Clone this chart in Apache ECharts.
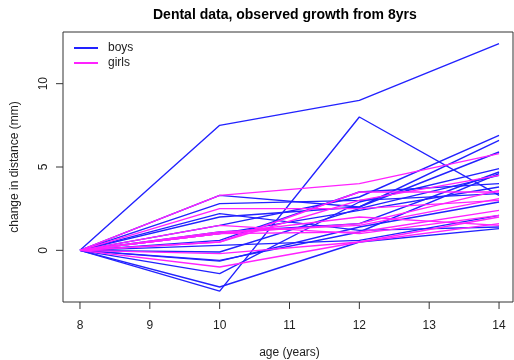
<!DOCTYPE html>
<html>
<head>
<meta charset="utf-8">
<script src="https://cdn.jsdelivr.net/npm/echarts@6/dist/echarts.min.js"></script>
<style>
  html, body { margin: 0; padding: 0; background: #fff; }
  #chart { width: 514px; height: 360px; }
</style>
</head>
<body>
<div id="chart"></div>
<script>
// Ages at which distance was measured
const ages = [8, 10, 12, 14];

// Change in distance (mm) relative to age 8, one row per child
const boys = [
  [0, -1.4, 2.9, 4.9],
  [0, 1.1, 1.6, 4.7],
  [0, -0.6, 1.1, 4.6],
  [0, 2.2, 1.2, 1.4],
  [0, 3.3, 2.6, 5.9],
  [0, 1.0, 2.4, 3.8],
  [0, -0.1, 2.5, 4.5],
  [0, -2.2, 0.5, 1.3],
  [0, -2.45, 8.0, 3.3],
  [0, 0.6, 3.5, 4.0],
  [0, 0.3, 0.6, 2.1],
  [0, 2.0, 2.6, 6.6],
  [0, 7.5, 9.0, 12.4],
  [0, 2.8, 3.0, 3.4],
  [0, 1.5, 3.2, 6.9],
  [0, -0.65, 1.4, 2.9]
];
const girls = [
  [0, -1.0, 0.5, 2.0],
  [0, 0.5, 3.0, 4.5],
  [0, 3.3, 4.0, 5.8],
  [0, 1.1, 1.5, 3.1],
  [0, 1.5, 1.0, 2.1],
  [0, 1.0, 1.1, 2.4],
  [0, 1.0, 1.6, 3.6],
  [0, -0.2, 0.5, 1.6],
  [0, 1.0, 2.0, 1.5],
  [0, 2.5, 2.5, 3.0],
  [0, 0.5, 3.5, 3.5]
];

// Tick values
const xTicks = [8, 9, 10, 11, 12, 13, 14];
const yTicks = [0, 5, 10];
const xTickMin = 8, xTickMax = 14, xTickStep = 1;
const yTickMin = 0, yTickMax = 10, yTickStep = 5;

const BLUE = '#2222ff';
const MAGENTA = '#ff22ff';
const FONT = 'Liberation Sans, Arial, Helvetica, sans-serif';

// Plot frame (pixels) and its data range
const W = 514, H = 360;
const frame = { left: 63, top: 32, right: 1, bottom: 58 };
const xRange = [7.757, 14.2];
const yRange = [-3.1, 13.1];
const TICK = 7;

// Pixel helpers for placing the label strips just outside the frame
const fw = W - frame.left - frame.right;
const fh = H - frame.top - frame.bottom;
const px = v => frame.left + (v - xRange[0]) / (xRange[1] - xRange[0]) * fw;
const py = v => (H - frame.bottom) - (v - yRange[0]) / (yRange[1] - yRange[0]) * fh;

function makeSeries(rows, name, color) {
  return rows.map(r => ({
    name: name,
    type: 'line',
    xAxisIndex: 0,
    yAxisIndex: 0,
    data: ages.map((a, i) => [a, r[i]]),
    showSymbol: false,
    symbol: 'none',
    silent: true,
    lineStyle: { color: color, width: 1.4 },
    itemStyle: { color: color }
  }));
}

// Tick marks: short bars hanging off the frame edges at the tick values
const tickSeries = [
  {
    name: 'xticks',
    type: 'scatter',
    xAxisIndex: 0, yAxisIndex: 0,
    clip: false, silent: true,
    symbol: 'rect',
    symbolSize: [1, TICK],
    symbolOffset: [0, TICK / 2],
    itemStyle: { color: '#333', opacity: 1 },
    data: xTicks.map(v => [v, yRange[0]]),
    z: 5
  },
  {
    name: 'yticks',
    type: 'scatter',
    xAxisIndex: 0, yAxisIndex: 0,
    clip: false, silent: true,
    symbol: 'rect',
    symbolSize: [TICK, 1],
    symbolOffset: [-TICK / 2, 0],
    itemStyle: { color: '#333', opacity: 1 },
    data: yTicks.map(v => [xRange[0], v]),
    z: 5
  }
];

const labelText = { fontFamily: FONT, fontSize: 12, color: '#222' };
const noGrid = { containLabel: false, outerBoundsMode: 'none', show: false };

const chart = echarts.init(document.getElementById('chart'), null, { renderer: 'canvas' });
chart.setOption({
  animation: false,
  backgroundColor: '#ffffff',
  title: {
    text: 'Dental data, observed growth from 8yrs',
    left: 153,
    top: 8,
    padding: 0,
    textStyle: { fontFamily: FONT, fontSize: 14, fontWeight: 'bold', color: '#000' }
  },
  legend: {
    orient: 'vertical',
    left: 74,
    top: 42,
    padding: 0,
    itemWidth: 24,
    itemHeight: 2,
    itemGap: 3,
    icon: 'rect',
    data: [
      { name: 'boys', itemStyle: { color: BLUE } },
      { name: 'girls', itemStyle: { color: MAGENTA } }
    ],
    textStyle: Object.assign({ padding: [0, 0, 0, 5] }, labelText)
  },
  grid: [
    // data frame
    {
      left: frame.left, top: frame.top, right: frame.right, bottom: frame.bottom,
      containLabel: false, outerBoundsMode: 'none',
      show: true, borderColor: '#333', borderWidth: 1, backgroundColor: 'transparent'
    },
    // bottom label strip: ages 8..14
    Object.assign({
      left: px(xTickMin), right: W - px(xTickMax),
      top: H - frame.bottom, bottom: frame.bottom - TICK
    }, noGrid),
    // left label strip: 0..10
    Object.assign({
      left: frame.left - TICK, right: W - frame.left,
      top: py(yTickMax), bottom: H - py(yTickMin)
    }, noGrid)
  ],
  xAxis: [
    { gridIndex: 0, type: 'value', min: xRange[0], max: xRange[1], show: false },
    {
      gridIndex: 1, type: 'value', min: xTickMin, max: xTickMax, interval: xTickStep,
      position: 'bottom',
      name: 'age (years)', nameLocation: 'middle', nameGap: 38, nameTextStyle: labelText,
      axisLine: { show: false },
      axisTick: { show: false },
      splitLine: { show: false },
      axisLabel: Object.assign({ margin: 11, showMinLabel: true, showMaxLabel: true }, labelText)
    },
    { gridIndex: 2, type: 'value', min: 0, max: 1, show: false }
  ],
  yAxis: [
    { gridIndex: 0, type: 'value', min: yRange[0], max: yRange[1], show: false },
    { gridIndex: 1, type: 'value', min: 0, max: 1, show: false },
    {
      gridIndex: 2, type: 'value', min: yTickMin, max: yTickMax, interval: yTickStep,
      position: 'left',
      name: 'change in distance (mm)', nameLocation: 'middle', nameGap: 35, nameRotate: 90,
      nameTextStyle: labelText,
      axisLine: { show: false },
      axisTick: { show: false },
      splitLine: { show: false },
      axisLabel: Object.assign({ rotate: 90, margin: 6, showMinLabel: true, showMaxLabel: true }, labelText)
    }
  ],
  series: makeSeries(boys, 'boys', BLUE)
    .concat(makeSeries(girls, 'girls', MAGENTA))
    .concat(tickSeries)
});
</script>
</body>
</html>
